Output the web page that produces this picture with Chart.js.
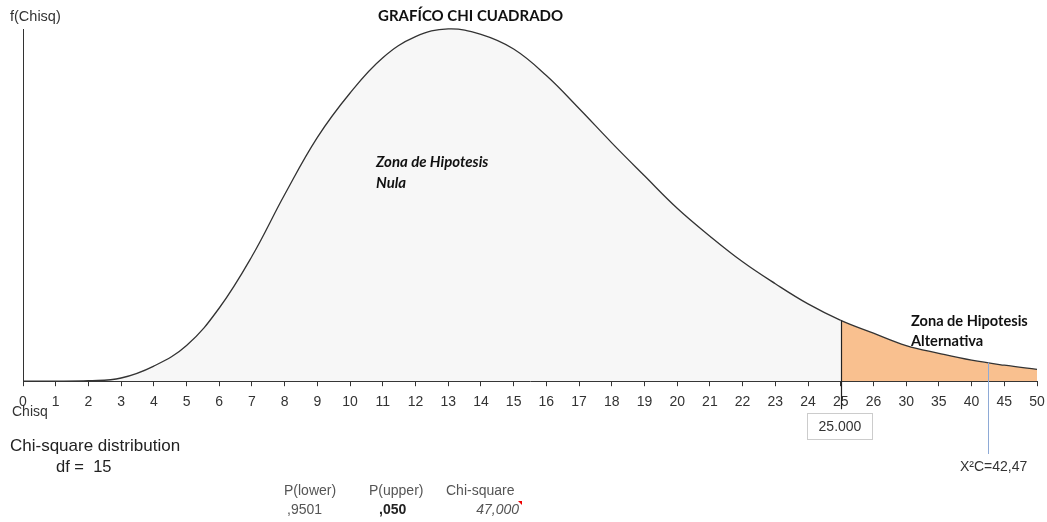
<!DOCTYPE html>
<html>
<head>
<meta charset="utf-8">
<script src="https://cdn.jsdelivr.net/npm/chart.js@4"></script>
<style>
  body { margin: 0; background: #fff; }
  #wrap { position: relative; width: 1047px; height: 522px; font-family: "Liberation Sans", Arial, sans-serif; color: #333; }
  canvas { position: absolute; left: 0; top: 0; }
  .t { position: absolute; white-space: pre; line-height: 1; }
  .cal { font-family: Lato, "Open Sans", sans-serif; font-weight: bold; color: #111; }
</style>
</head>
<body>
<div id="wrap">
  <canvas id="chiChart" width="1047" height="522"></canvas>
  <div class="t" style="left:10px;top:9px;font-size:14.5px;">f(Chisq)</div>
  <div class="t cal" style="left:378px;top:8px;font-size:15px;">GRAFÍCO CHI CUADRADO</div>
  <div class="t cal" style="left:376px;top:151px;font-size:15px;font-style:italic;line-height:21px;">Zona de Hipotesis
Nula</div>
  <div class="t cal" style="left:911px;top:311px;font-size:14.6px;line-height:20px;">Zona de Hipotesis
Alternativa</div>
  <div class="t" style="left:12px;top:404px;font-size:14px;">Chisq</div>
  <div class="t" style="left:10px;top:437px;font-size:17px;color:#222;">Chi-square distribution</div>
  <div class="t" style="left:56px;top:458px;font-size:16.5px;color:#222;">df =  15</div>
  <div class="t" style="left:807px;top:413px;width:64px;height:25px;border:1px solid #ccc;font-size:14px;text-align:center;line-height:25px;">25.000</div>
  <div class="t" style="left:960px;top:459px;font-size:14px;">X²C=42,47</div>
  <div class="t" style="left:284px;top:483px;font-size:14px;color:#555;">P(lower)</div>
  <div class="t" style="left:287px;top:502px;font-size:14px;color:#555;">,9501</div>
  <div class="t" style="left:369px;top:483px;font-size:14px;color:#555;">P(upper)</div>
  <div class="t" style="left:379px;top:502px;font-size:14px;font-weight:bold;color:#222;">,050</div>
  <div class="t" style="left:446px;top:483px;font-size:14px;color:#555;">Chi-square</div>
  <div class="t" style="left:465px;top:502px;width:54px;text-align:right;font-size:14px;font-style:italic;color:#555;">47,000</div>
  <div style="position:absolute;left:518px;top:501px;width:0;height:0;border-left:4px solid transparent;border-top:4px solid #e00;"></div>
</div>
<script>
// x categories of the chart (axis is compressed after 25)
const chisqLabels = ['0','1','2','3','4','5','6','7','8','9','10','11','12','13','14','15','16','17','18','19','20',
  '21','22','23','24','25','26','30','35','40','45','50'];

// density
const density = [0, 0.0000, 0.0001, 0.0007, 0.0033, 0.0078, 0.0160, 0.0273, 0.0408, 0.0533, 0.0630,
  0.0707, 0.0753, 0.0770, 0.0758, 0.0726, 0.0668, 0.0596, 0.0521, 0.0449, 0.0378,
  0.0317, 0.0261, 0.0213, 0.0169, 0.0133, 0.0105, 0.0078, 0.0061, 0.0046, 0.0035, 0.0026];

const criticalIndex = 25;      // chi-square critical value 25.000
const calcValue = 42.47;       // X2 calculated

const gray = '#f7f7f7';
const orange = '#f9c08f';

// vertical markers at the critical value and the computed statistic
const markers = {
  id: 'markers',
  afterDatasetsDraw(chart) {
    const { ctx, scales: { x, y }, chartArea } = chart;
    ctx.save();
    // left axis line
    ctx.strokeStyle = '#333';
    ctx.lineWidth = 1;
    ctx.beginPath();
    ctx.moveTo(chartArea.left + 0.5, chartArea.top + 1);
    ctx.lineTo(chartArea.left + 0.5, chartArea.bottom);
    ctx.stroke();

    // critical value
    const xc = Math.round(x.getPixelForValue(criticalIndex)) + 0.5;
    ctx.strokeStyle = '#222';
    ctx.lineWidth = 1.2;
    ctx.beginPath();
    ctx.moveTo(xc, y.getPixelForValue(density[criticalIndex]));
    ctx.lineTo(xc, chartArea.bottom + 28);
    ctx.stroke();

    // X2C between 40 and 45
    const i0 = chisqLabels.indexOf('40');
    const f = (calcValue - 40) / 5;
    const xs = x.getPixelForValue(i0 + f);
    const ys = y.getPixelForValue(density[i0] + (density[i0 + 1] - density[i0]) * f);
    ctx.strokeStyle = '#8eaad6';
    ctx.lineWidth = 1;
    ctx.beginPath();
    ctx.moveTo(Math.round(xs) + 0.5, ys);
    ctx.lineTo(Math.round(xs) + 0.5, 454);
    ctx.stroke();
    ctx.restore();
  }
};

new Chart(document.getElementById('chiChart'), {
  type: 'line',
  data: {
    labels: chisqLabels,
    datasets: [{
      data: density,
      borderColor: '#333',
      borderWidth: 1.3,
      backgroundColor: gray,
      fill: 'origin',
      pointRadius: 0,
      tension: 0.4,
      segment: {
        backgroundColor: c => c.p0DataIndex >= criticalIndex ? orange : gray
      }
    }]
  },
  options: {
    responsive: false,
    animation: false,
    layout: { padding: { left: 23, right: 10, top: 28, bottom: 104 } },
    plugins: { legend: { display: false }, tooltip: { enabled: false } },
    scales: {
      x: {
        offset: false,
        border: { color: '#333', width: 1 },
        grid: { drawOnChartArea: false, color: '#333', tickLength: 5 },
        ticks: {
          color: '#333', autoSkip: false, maxRotation: 0, padding: 7.5,
          font: { family: 'Liberation Sans', size: 14 }
        },
        afterFit(scale) { scale.paddingLeft = 0; scale.paddingRight = 0; }
      },
      y: { display: false, min: 0, max: 0.0772 }
    }
  },
  plugins: [markers]
});
</script>
</body>
</html>
